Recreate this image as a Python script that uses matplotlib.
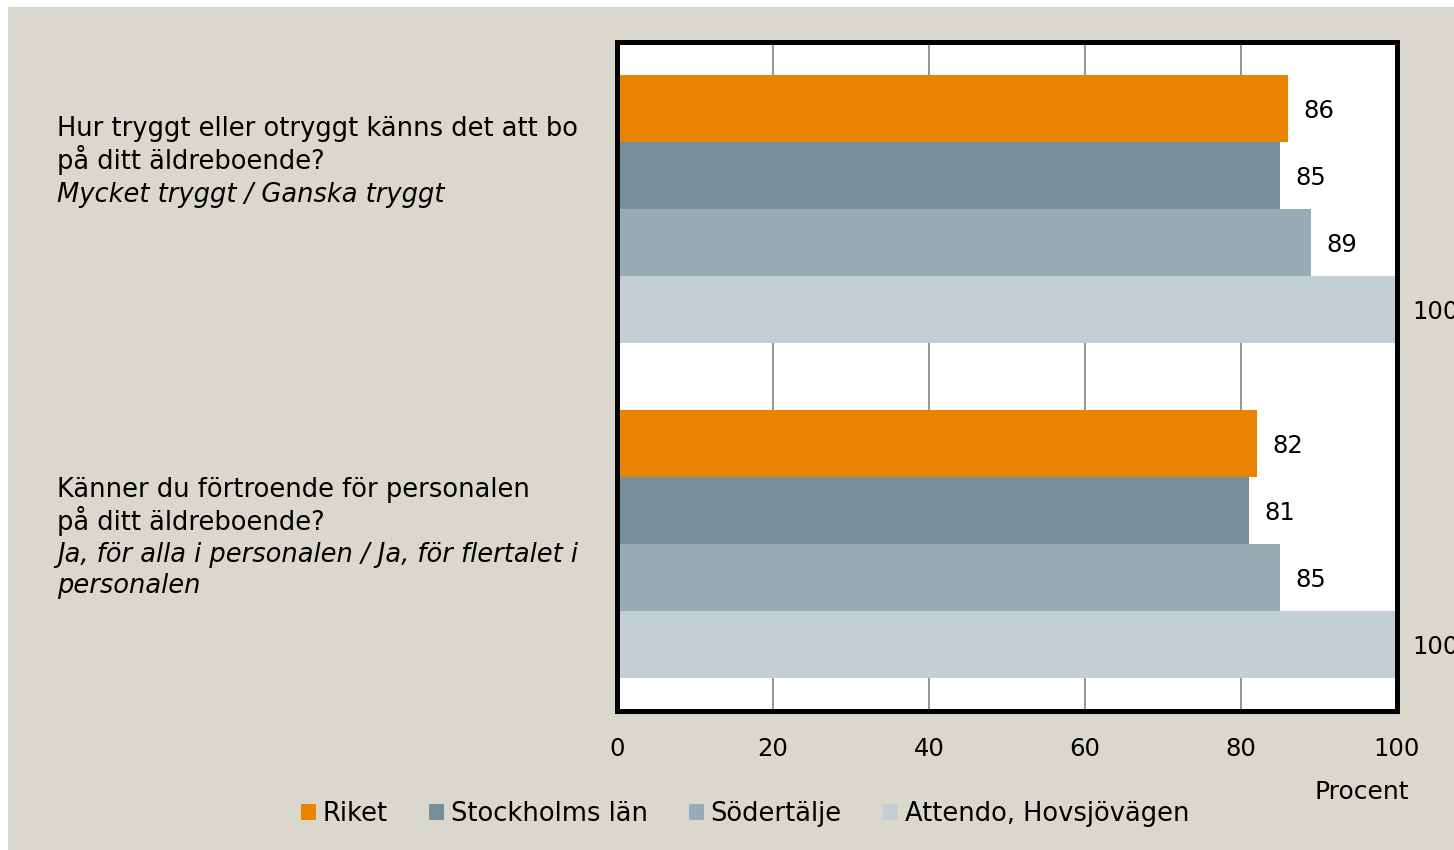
import matplotlib
matplotlib.use("Agg")
import matplotlib.pyplot as plt
from matplotlib.patches import Patch, Rectangle

# Data
series = ["Riket", "Stockholms län", "Södertälje", "Attendo, Hovsjövägen"]
q1_values = [86, 85, 89, 100]
q2_values = [82, 81, 85, 100]
x_ticks = [0, 20, 40, 60, 80, 100]

q1_label = ["Hur tryggt eller otryggt känns det att bo", "på ditt äldreboende?"]
q1_sub = ["Mycket tryggt / Ganska tryggt"]
q2_label = ["Känner du förtroende för personalen", "på ditt äldreboende?"]
q2_sub = ["Ja, för alla i personalen / Ja, för flertalet i", "personalen"]

colors = ["#e98300", "#758f9c", "#98acb7", "#c3ced5"]
bg = "#dad8cc"

plt.rcParams["font.family"] = ["DejaVu Sans"]

W, H = 1454, 850
fig = plt.figure(figsize=(W / 100, H / 100), dpi=100)
fig.patch.set_facecolor("white")
fig.patches.append(Rectangle((8 / W, 0), 1, 1 - 7 / H, transform=fig.transFigure,
                             facecolor=bg, edgecolor="none", zorder=-10))

ax = fig.add_axes([617 / W, 1 - 711 / H, 780 / W, 669 / H])
ax.set_facecolor("white")

groups = [q1_values, q2_values]
offsets = [-0.3, -0.1, 0.1, 0.3]
for i, name in enumerate(series):
    ys = [g + offsets[i] for g in range(len(groups))]
    vals = [groups[g][i] for g in range(len(groups))]
    ax.barh(ys, vals, height=0.2, color=colors[i], label=name, zorder=2)
    for y, v in zip(ys, vals):
        ax.annotate(str(v), (v, y), xytext=(11, 0), textcoords="offset points",
                    va="center_baseline", ha="left", fontsize=17.5, color="black",
                    annotation_clip=False)

ax.set_xlim(0, 100)
ax.set_ylim(1.5, -0.5)
ax.set_xticks(x_ticks)
ax.set_xticklabels([str(t) for t in x_ticks], fontsize=17.5)
ax.set_yticks([])
ax.tick_params(axis="x", length=0, pad=19)
ax.grid(axis="x", color="#8c8c8c", linewidth=1.3, zorder=1)
ax.set_axisbelow(True)
for s in ax.spines.values():
    s.set_linewidth(3.6)
    s.set_color("black")

# question labels to the left
def put_lines(lines, baselines, style):
    for txt, yb in zip(lines, baselines):
        fig.text(57 / W, 1 - yb / H, txt, ha="left", va="baseline",
                 fontsize=18.5, style=style)

put_lines(q1_label, [136, 169], "normal")
put_lines(q1_sub, [202], "italic")
put_lines(q2_label, [497, 530], "normal")
put_lines(q2_sub, [562, 593], "italic")

fig.text(1362 / W, 1 - 792 / H, "Procent", ha="center", va="center", fontsize=18)

handles = [Patch(facecolor=c, edgecolor="none") for c in colors]
fig.legend(handles, series, loc="center", bbox_to_anchor=(745 / W, 1 - 814 / H),
           ncol=4, frameon=False, fontsize=18.5, handlelength=0.6,
           handleheight=0.62, handletextpad=0.25, columnspacing=1.6)

fig.savefig("out.png", dpi=100, facecolor=fig.get_facecolor())
